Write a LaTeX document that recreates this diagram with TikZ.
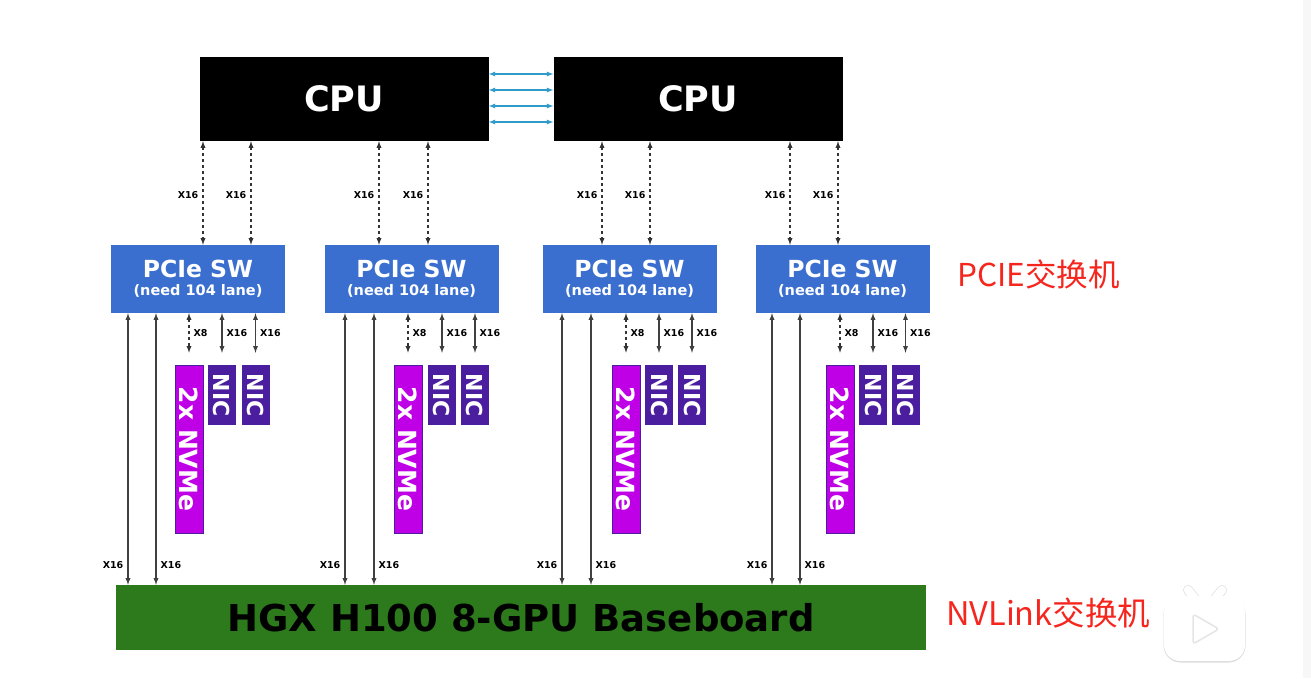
\documentclass[tikz,border=0pt]{standalone}
\usepackage{fontspec}
\setmainfont{DejaVu Sans}
\newfontfamily\cjk{Noto Sans CJK SC}
\usepackage{tikz}
\usetikzlibrary{calc,arrows}
\definecolor{swblue}{HTML}{3A6FD0}
\definecolor{nvmepink}{HTML}{BF00E6}
\definecolor{nicblue}{HTML}{4A1E9E}
\definecolor{hgxgreen}{HTML}{2C7A1C}
\definecolor{linkblue}{HTML}{2F9BCB}
\definecolor{notered}{HTML}{F5261E}
\tikzset{
    cpubox/.style={fill=black,text=white,minimum width=289pt,minimum height=84pt,inner sep=0pt,font=\bfseries\fontsize{35}{35}\selectfont},
    swbox/.style={fill=swblue,text=white,minimum width=174pt,minimum height=68pt,inner sep=0pt,align=center},
    nvmebox/.style={fill=nvmepink,draw=nicblue,line width=0.6pt,text=white,minimum width=28pt,minimum height=168pt,inner sep=0pt,font=\bfseries\fontsize{25}{25}\selectfont},
    nicbox/.style={fill=nicblue,text=white,minimum width=28pt,minimum height=60pt,inner sep=0pt,font=\bfseries\fontsize{22}{22}\selectfont},
    hgxbox/.style={fill=hgxgreen,text=black,minimum width=810pt,minimum height=65pt,inner sep=0pt,font=\bfseries\fontsize{37}{37}\selectfont},
    duallink/.style={latex-latex,line width=1.3pt,black!80,dash pattern=on 3pt off 3pt},
    lanelink/.style={latex-latex,line width=1.3pt,black!75},
    cpulink/.style={latex-latex,line width=1.2pt,linkblue},
    xlabel/.style={text=black,font=\bfseries\fontsize{9.5}{9.5}\selectfont,inner sep=4pt},
    redlabel/.style={text=notered,font=\cjk\fontsize{31.5}{32}\selectfont,inner sep=0pt}
}
\newcommand{\swtext}{{\bfseries\fontsize{23.5}{24}\selectfont PCIe SW}\\[6pt]{\bfseries\fontsize{14.5}{16}\selectfont (need 104 lane)}}
\begin{document}
\begin{tikzpicture}[x=1pt,y=-1pt]
            \useasboundingbox (0,0) rectangle (1311,678);
            \fill[black!3] (1303,0) rectangle (1311,678);
            % CPUs
            \node (cpuA) at (344,99) [cpubox] {CPU};
            \node (cpuB) at (698,99) [cpubox] {CPU};
            \draw[cpulink] ([yshift=25pt]cpuA.east)--([yshift=25pt]cpuB.west);
            \draw[cpulink] ([yshift=9pt]cpuA.east)--([yshift=9pt]cpuB.west);
            \draw[cpulink] ([yshift=-7pt]cpuA.east)--([yshift=-7pt]cpuB.west);
            \draw[cpulink] ([yshift=-23pt]cpuA.east)--([yshift=-23pt]cpuB.west);
            % switches
            \node (swA) at (198,279) [swbox] {\swtext};
            \node (swB) at (411.5,279) [swbox] {\swtext};
            \node (swC) at (629.5,279) [swbox] {\swtext};
            \node (swD) at (842.5,279) [swbox] {\swtext};
            \node (hgx) at (521,617.5) [hgxbox] {HGX H100 8-GPU Baseboard};
            % cards under the switches
            \node (nvmeA) at (189,449) [nvmebox] {\rotatebox{-90}{2x NVMe}};
            \node (nicAa) at (222,395) [nicbox] {\rotatebox{-90}{NIC}};
            \node (nicAb) at (255.5,395) [nicbox] {\rotatebox{-90}{NIC}};
            \node (nvmeB) at (408,449) [nvmebox] {\rotatebox{-90}{2x NVMe}};
            \node (nicBa) at (442,395) [nicbox] {\rotatebox{-90}{NIC}};
            \node (nicBb) at (475,395) [nicbox] {\rotatebox{-90}{NIC}};
            \node (nvmeC) at (626,449) [nvmebox] {\rotatebox{-90}{2x NVMe}};
            \node (nicCa) at (659,395) [nicbox] {\rotatebox{-90}{NIC}};
            \node (nicCb) at (692,395) [nicbox] {\rotatebox{-90}{NIC}};
            \node (nvmeD) at (840,449) [nvmebox] {\rotatebox{-90}{2x NVMe}};
            \node (nicDa) at (873,395) [nicbox] {\rotatebox{-90}{NIC}};
            \node (nicDb) at (905.5,395) [nicbox] {\rotatebox{-90}{NIC}};
            % cpu to switch
            \draw[duallink] ([xshift=-141pt]cpuA.south)--([xshift=5pt]swA.north) node[xlabel,left,pos=0.52] {X16};
            \draw[duallink] ([xshift=-93pt]cpuA.south)--([xshift=53pt]swA.north) node[xlabel,left,pos=0.52] {X16};
            \draw[duallink] ([xshift=35pt]cpuA.south)--([xshift=-32.5pt]swB.north) node[xlabel,left,pos=0.52] {X16};
            \draw[duallink] ([xshift=84pt]cpuA.south)--([xshift=16.5pt]swB.north) node[xlabel,left,pos=0.52] {X16};
            \draw[duallink] ([xshift=-96pt]cpuB.south)--([xshift=-27.5pt]swC.north) node[xlabel,left,pos=0.52] {X16};
            \draw[duallink] ([xshift=-48pt]cpuB.south)--([xshift=20.5pt]swC.north) node[xlabel,left,pos=0.52] {X16};
            \draw[duallink] ([xshift=92pt]cpuB.south)--([xshift=-52.5pt]swD.north) node[xlabel,left,pos=0.52] {X16};
            \draw[duallink] ([xshift=140pt]cpuB.south)--([xshift=-4.5pt]swD.north) node[xlabel,left,pos=0.52] {X16};
            % switch to baseboard
            \draw[lanelink] ([xshift=-70pt]swA.south)--([xshift=-393pt]hgx.north) node[xlabel,left,pos=0.926] {X16};
            \draw[lanelink] ([xshift=-42pt]swA.south)--([xshift=-365pt]hgx.north) node[xlabel,right,pos=0.926] {X16};
            \draw[lanelink] ([xshift=-66.5pt]swB.south)--([xshift=-176pt]hgx.north) node[xlabel,left,pos=0.926] {X16};
            \draw[lanelink] ([xshift=-37.5pt]swB.south)--([xshift=-147pt]hgx.north) node[xlabel,right,pos=0.926] {X16};
            \draw[lanelink] ([xshift=-67.5pt]swC.south)--([xshift=41pt]hgx.north) node[xlabel,left,pos=0.926] {X16};
            \draw[lanelink] ([xshift=-38.5pt]swC.south)--([xshift=70pt]hgx.north) node[xlabel,right,pos=0.926] {X16};
            \draw[lanelink] ([xshift=-70.5pt]swD.south)--([xshift=251pt]hgx.north) node[xlabel,left,pos=0.926] {X16};
            \draw[lanelink] ([xshift=-42.5pt]swD.south)--([xshift=279pt]hgx.north) node[xlabel,right,pos=0.926] {X16};
            % switch to cards
            \draw[duallink] (nvmeA.north |- swA.south)--([yshift=12pt]nvmeA.north) node[xlabel,right,midway] {X8};
            \draw[lanelink] (nicAa.north |- swA.south)--([yshift=12pt]nicAa.north) node[xlabel,right,midway] {X16};
            \draw[lanelink] (nicAb.north |- swA.south)--([yshift=12pt]nicAb.north) node[xlabel,right,midway] {X16};
            \draw[duallink] (nvmeB.north |- swB.south)--([yshift=12pt]nvmeB.north) node[xlabel,right,midway] {X8};
            \draw[lanelink] (nicBa.north |- swB.south)--([yshift=12pt]nicBa.north) node[xlabel,right,midway] {X16};
            \draw[lanelink] (nicBb.north |- swB.south)--([yshift=12pt]nicBb.north) node[xlabel,right,midway] {X16};
            \draw[duallink] (nvmeC.north |- swC.south)--([yshift=12pt]nvmeC.north) node[xlabel,right,midway] {X8};
            \draw[lanelink] (nicCa.north |- swC.south)--([yshift=12pt]nicCa.north) node[xlabel,right,midway] {X16};
            \draw[lanelink] (nicCb.north |- swC.south)--([yshift=12pt]nicCb.north) node[xlabel,right,midway] {X16};
            \draw[duallink] (nvmeD.north |- swD.south)--([yshift=12pt]nvmeD.north) node[xlabel,right,midway] {X8};
            \draw[lanelink] (nicDa.north |- swD.south)--([yshift=12pt]nicDa.north) node[xlabel,right,midway] {X16};
            \draw[lanelink] (nicDb.north |- swD.south)--([yshift=12pt]nicDb.north) node[xlabel,right,midway] {X16};
            % red notes
            \node (notePcie) at (957,274) [redlabel,anchor=west] {PCIE交换机};
            \node (noteNv) at (946,613) [redlabel,anchor=west,font=\cjk\fontsize{32.5}{33}\selectfont] {NVLink交换机};
            % player badge
            \draw[black!12,line width=10pt,line cap=round] (1188,590)--(1196,600);
            \draw[black!12,line width=10pt,line cap=round] (1222,590)--(1214,600);
            \draw[white,line width=8.5pt,line cap=round] (1188,590)--(1196,600);
            \draw[white,line width=8.5pt,line cap=round] (1222,590)--(1214,600);
            \fill[black!14,rounded corners=17pt] (1163.5,597) rectangle (1245.5,662.5);
            \fill[white,rounded corners=16pt] (1164,596) rectangle (1245,661);
            \draw[black!10,fill=white,line width=1.5pt,line join=round,rounded corners=3pt] (1193,614)--(1219,629)--(1193,644)--cycle;
        \end{tikzpicture}
\end{document}
